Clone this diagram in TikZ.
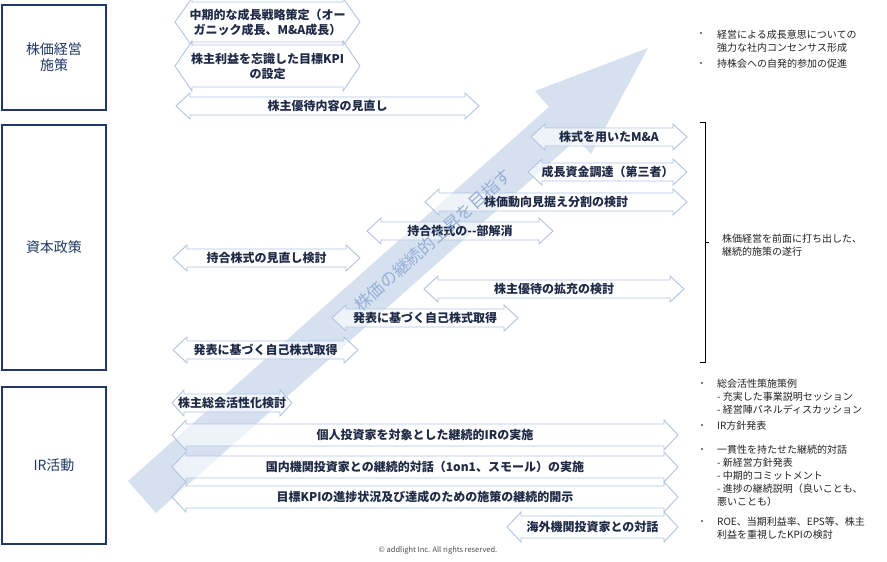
\documentclass[tikz,border=0pt]{standalone}
\usepackage{fontspec}
\setmainfont{Noto Sans CJK JP}
\definecolor{navy}{RGB}{31,56,100}
\definecolor{arrowfill}{RGB}{214,225,240}
\definecolor{barcol}{RGB}{176,196,226}
\definecolor{bartxt}{RGB}{30,42,70}
\definecolor{arrtxt}{RGB}{150,175,215}
\definecolor{sidetxt}{RGB}{35,35,35}
\tikzset{
 catbox/.style={draw=navy, line width=1.8pt, fill=white, inner sep=0pt, align=center,
   font=\fontsize{14}{16}\selectfont, text=navy},
 barshape/.style={draw=barcol, line width=0.9pt, fill=white, fill opacity=0.6},
 bartext/.style={font=\bfseries\fontsize{12}{15}\selectfont, text=bartxt, align=center, inner sep=0pt},
 side/.style={font=\fontsize{10}{13}\selectfont, text=sidetxt, align=left, anchor=west, inner sep=0pt},
 bul/.style={font=\fontsize{7}{9}\selectfont, text=sidetxt, inner sep=0pt},
 bracketline/.style={draw=black, line width=0.9pt},
}
% #1 name, #2 x1, #3 x2, #4 yc, #5 half shaft, #6 head length, #7 text
\newcommand\dblbar[7]{%
 \path[barshape] ({#2},{#4}) -- ({#2+#6},{#4-#5-4}) -- ({#2+#6},{#4-#5}) -- ({#3-#6},{#4-#5})
   -- ({#3-#6},{#4-#5-4}) -- ({#3},{#4}) -- ({#3-#6},{#4+#5+4}) -- ({#3-#6},{#4+#5})
   -- ({#2+#6},{#4+#5}) -- ({#2+#6},{#4+#5+4}) -- cycle;
 \node[bartext] (#1) at ({(#2+#3)/2},{#4}) {#7};
}
\begin{document}
\begin{tikzpicture}[x=1pt,y=-1pt]
\useasboundingbox[fill=white] (0,0) rectangle (887,562);

% category boxes
\node[catbox, minimum width=104pt, minimum height=105pt] (c1) at (54,57.5) {株価経営\\施策};
\node[catbox, minimum width=104pt, minimum height=245pt] (c2) at (54,247.5) {資本政策};
\node[catbox, minimum width=104pt, minimum height=157pt] (c3) at (54,465.5) {IR活動};

% big diagonal arrow
\fill[arrowfill] (128,481) -- (549,107) -- (535,91) -- (648,48) -- (591,154) -- (577,139) -- (156,513) -- cycle;

% bars
\dblbar{b1}{175}{360}{22}{20}{17}{中期的な成長戦略策定（オー\\ガニック成長、M\&A成長）}
\dblbar{b2}{175}{360}{66}{21}{17}{株主利益を忘識した目標KPI\\の設定}
\dblbar{b3}{176}{479}{106}{9}{14}{株主優待内容の見直し}
\dblbar{b4}{531}{687}{137}{9}{14}{株式を用いたM\&A}
\dblbar{b5}{528}{687}{172}{9}{14}{成長資金調達（第三者）}
\dblbar{b6}{425}{687}{202}{9}{14}{株価動向見据え分割の検討}
\dblbar{b7}{367}{553}{231}{9}{14}{持合株式の-{}-部解消}
\dblbar{b8}{173}{360}{258}{9}{14}{持合株式の見直し検討}
\dblbar{b9}{424}{684}{289}{9}{14}{株主優待の拡充の検討}
\dblbar{b10}{332}{518}{318}{9}{14}{発表に基づく自己株式取得}
\dblbar{b11}{173}{358}{350}{9}{14}{発表に基づく自己株式取得}
\dblbar{b12}{172}{292}{403}{9}{12}{株主総会活性化検討}
\dblbar{b13}{172}{678}{435}{11}{14}{個人投資家を対象とした継続的IRの実施}
\dblbar{b14}{172}{678}{467}{11}{14}{国内機関投資家との継続的対話（1on1、スモール）の実施}
\dblbar{b15}{172}{678}{497}{11}{14}{目標KPIの進捗状況及び達成のための施策の継続的開示}
\dblbar{b16}{507}{678}{527}{11}{14}{海外機関投資家との対話}

% arrow label
\node[rotate=41.6, font=\fontsize{17}{17}\selectfont, text=arrtxt, inner sep=0pt] (atx) at (433,240) {株価の継続的上昇を目指す};

% right side notes
\node[bul] (u1) at (701,34) {•};
\node[side] (t1) at (717,41) {経営による成長意思についての\\強力な社内コンセンサス形成};
\node[bul] (u2) at (701,64) {•};
\node[side] (t2) at (717,64) {持株会への自発的参加の促進};

\coordinate (k1) at (700,122);
\coordinate (k2) at (705,122);
\coordinate (k3) at (705,362);
\coordinate (k4) at (700,362);
\coordinate (k5) at (705,242);
\coordinate (k6) at (709,242);
\draw[bracketline] (k1) -- (k2) -- (k3) -- (k4);
\draw[bracketline] (k5) -- (k6);
\node[side] (t3) at (722,245) {株価経営を前面に打ち出した、\\継続的施策の遂行};

\node[bul] (u3) at (702,384) {•};
\node[side] (t4) at (717,397) {総会活性策施策例\\ - 充実した事業説明セッション\\ - 経営陣パネルディスカッション};
\node[bul] (u4) at (702,426) {•};
\node[side] (t5) at (717,426) {IR方針発表};
\node[bul] (u5) at (702,450) {•};
\node[side] (t6) at (717,475.5) {一貫性を持たせた継続的対話\\- 新経営方針発表\\- 中期的コミットメント\\- 進捗の継続説明（良いことも、\\悪いことも）};
\node[bul] (u6) at (702,522) {•};
\node[side] (t7) at (717,528.5) {ROE、当期利益率、EPS等、株主\\利益を重視したKPIの検討};

% footer
\node[font=\fontsize{7.5}{9}\selectfont, text=black!70, inner sep=0pt] (ft) at (438,550) {© addlight Inc. All rights reserved.};
\end{tikzpicture}
\end{document}
